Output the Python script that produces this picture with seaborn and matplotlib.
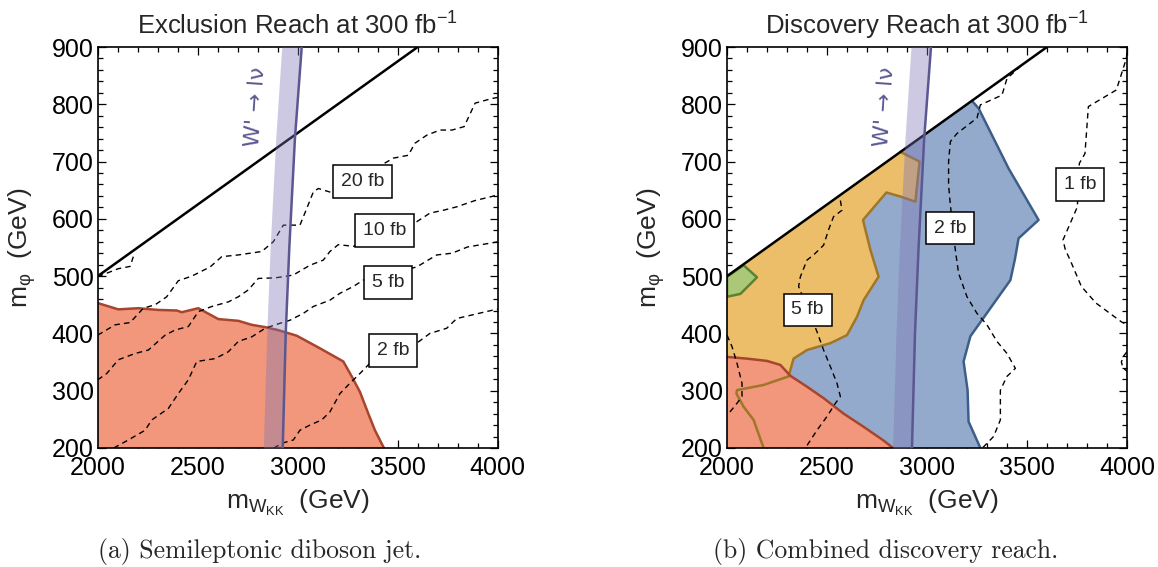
import matplotlib
matplotlib.use("Agg")
import matplotlib.pyplot as plt
from matplotlib.ticker import MultipleLocator
import seaborn as sns

# axis ranges / ticks
x_major = [2000, 2500, 3000, 3500, 4000]
y_major = [200, 300, 400, 500, 600, 700, 800, 900]

# kinematic edge m_phi = m_W / 4
kin_x = [2000, 3600]
kin_y = [500, 900]

# W' -> l nu band
band_y = [200, 400, 550, 740, 900]
band_lo = [2828, 2845, 2862, 2890, 2920]
band_hi = [2925, 2940, 2958, 2986, 3020]

# ---- (a) semileptonic diboson exclusion ----
excl_x = [2000, 2103, 2203, 2303, 2395, 2420, 2503, 2603, 2703, 2770, 2837, 2900,
          2995, 3111, 3228, 3270, 3311, 3353, 3386, 3431]
excl_y = [453, 442, 444, 441, 440, 437, 444, 425, 422, 415, 411, 406,
          396, 374, 351, 325, 298, 260, 231, 200]

# cross-section contours (a)
a_top_x = [2000, 2103, 2162, 2178]
a_top_y = [499, 513, 517, 534]
a20_x = [2000, 2087, 2162, 2228, 2287, 2345, 2403, 2470, 2562, 2620, 2703, 2820, 2878, 2928,
         3011, 3045, 3078, 3103, 3178, 3478, 3553, 3586, 3645, 3711, 3771, 3832, 3887, 3970, 4000]
a20_y = [397, 415, 419, 444, 450, 464, 492, 500, 516, 534, 537, 543, 560, 589,
         589, 618, 647, 653, 645, 706, 711, 732, 746, 755, 755, 761, 802, 810, 812]
a10_x = [2000, 2045, 2103, 2187, 2253, 2337, 2387, 2453, 2503, 2570, 2653, 2703, 2753, 2803, 2887,
         2945, 2978, 3061, 3128, 3161, 3203, 3278, 3595, 3661, 3728, 3795, 3887, 3970, 4000]
a10_y = [319, 330, 354, 365, 371, 397, 406, 412, 438, 447, 455, 464, 476, 496, 497,
         500, 502, 519, 528, 543, 555, 552, 595, 610, 615, 621, 632, 639, 642]
a5_x = [2080, 2153, 2237, 2270, 2353, 2403, 2453, 2495, 2587, 2653, 2703, 2770, 2837, 2887,
        2961, 3028, 3078, 3161, 3211, 3278, 3328, 3595, 3695, 3771, 3850, 3970, 4000]
a5_y = [200, 214, 231, 249, 269, 295, 319, 351, 356, 368, 386, 394, 409, 415,
        423, 435, 447, 458, 470, 482, 493, 516, 537, 540, 551, 558, 560]
a2_x = [2880, 2928, 2978, 3011, 3061, 3120, 3161, 3211, 3261, 3311, 3361, 3595, 3661, 3745,
        3795, 3979, 4000]
a2_y = [200, 209, 214, 231, 240, 249, 263, 295, 313, 330, 348, 383, 400, 409,
        426, 441, 442]
a_labels = ["20 fb", "10 fb", "5 fb", "2 fb"]
a_label_x = [3323, 3435, 3453, 3476]
a_label_y = [665, 580, 489, 370]

# ---- (b) combined discovery ----
blue_x = [2000, 3225, 3258, 3408, 3558, 3458, 3440, 3417, 3317, 3217, 3183, 3203, 3208, 3267, 2000]
blue_y = [500, 806, 793, 688, 598, 566, 530, 493, 444, 395, 351, 301, 246, 200, 200]
orange_x = [2000, 2867, 2963, 2942, 2867, 2797, 2680, 2717, 2758, 2683, 2650, 2600, 2517, 2400,
            2333, 2308, 2183, 2050, 2047, 2083, 2133, 2183, 2000]
orange_y = [500, 717, 700, 630, 639, 646, 598, 546, 499, 458, 429, 397, 383, 371,
            356, 325, 310, 301, 295, 272, 249, 200, 200]
red_x = [2000, 2100, 2200, 2267, 2317, 2400, 2483, 2583, 2683, 2783, 2830, 2000]
red_y = [359, 356, 352, 345, 326, 307, 287, 260, 237, 213, 200, 200]
green_x = [2000, 2083, 2150, 2067, 2000, 2000]
green_y = [499, 519, 498, 469, 464, 499]

b10_x = [2000, 2025, 2050, 2075, 2075, 2050, 2008, 2000]
b10_y = [397, 377, 348, 313, 290, 278, 260, 257]
b5_x = [2567, 2575, 2533, 2508, 2483, 2433, 2400, 2367, 2358, 2450, 2483, 2517, 2550, 2567,
        2542, 2500, 2450, 2392]
b5_y = [632, 615, 604, 581, 554, 537, 528, 499, 482, 403, 371, 342, 313, 290,
        278, 255, 231, 200]
b2_x = [3470, 3400, 3375, 3267, 3250, 3150, 3117, 3108, 3108, 3117, 3142, 3158, 3200, 3250,
        3300, 3350, 3400, 3442, 3400, 3367, 3367, 3367, 3333, 3283, 3267]
b2_y = [867, 845, 816, 799, 776, 749, 735, 700, 659, 624, 545, 505, 464, 435,
        415, 386, 365, 339, 325, 301, 272, 249, 220, 202, 200]
b1_x = [4000, 3997, 3947, 3807, 3790, 3762, 3752, 3680, 3692, 3716, 3772, 3845, 3973, 4000]
b1_y = [890, 880, 825, 796, 714, 697, 621, 563, 546, 528, 482, 453, 420, 415]
b_small_x = [4000, 3982, 3972, 3980, 4000]
b_small_y = [368, 360, 350, 340, 334]
b_labels = ["5 fb", "2 fb", "1 fb"]
b_label_x = [2403, 3117, 3766]
b_label_y = [441, 584, 660]

# colours
RED, RED_E = "#F2977B", "#A8452D"
BLUE, BLUE_E = "#94AACC", "#3E5E8A"
ORANGE, ORANGE_E = "#ECBE6A", "#A07628"
GREEN, GREEN_E = "#AAC878", "#5A8232"
BAND, BAND_E = "#7D73B4", "#5B5791"

sns.set_theme(style="ticks")
plt.rcParams['font.family'] = ['Liberation Sans', 'DejaVu Sans']
plt.rcParams['mathtext.fontset'] = 'custom'
plt.rcParams['mathtext.rm'] = 'Liberation Sans'
plt.rcParams['mathtext.it'] = 'Liberation Sans:italic'
plt.rcParams['mathtext.sf'] = 'Liberation Sans'

fig = plt.figure(figsize=(11.58, 5.67), dpi=100)
axL = fig.add_axes([0.0844, 0.2099, 0.3454, 0.7072])
axR = fig.add_axes([0.6278, 0.2099, 0.3454, 0.7072])


def frame(ax, title):
    ax.set_xlim(2000, 4000)
    ax.set_ylim(200, 900)
    ax.set_xticks(x_major)
    ax.set_yticks(y_major)
    ax.xaxis.set_minor_locator(MultipleLocator(100))
    ax.yaxis.set_minor_locator(MultipleLocator(20))
    ax.tick_params(which='both', direction='in', top=True, right=True,
                   labelsize=18, width=0.9, colors='black')
    ax.tick_params(axis='x', which='major', pad=6)
    ax.tick_params(axis='y', which='major', pad=3)
    ax.tick_params(which='major', length=6)
    ax.tick_params(which='minor', length=3.5)
    for s in ax.spines.values():
        s.set_linewidth(1.2)
        s.set_color('black')
    ax.set_title(title, fontsize=18.5, pad=9)
    ax.set_xlabel(r'$\mathrm{m}_{\mathrm{W}_{\mathrm{KK}}}$  (GeV)', fontsize=19)
    ax.set_ylabel(r'$\mathrm{m}_{\mathrm{\varphi}}$  (GeV)', fontsize=19)
    ax.xaxis.set_label_coords(0.5, -0.10)
    ax.yaxis.set_label_coords(-0.15, 0.5)


def dashed(ax, xs, ys):
    sns.lineplot(x=xs, y=ys, ax=ax, sort=False, estimator=None, color='black',
                 linewidth=1.0, linestyle=(0, (4, 3)), zorder=5)


def common(ax):
    sns.lineplot(x=kin_x, y=kin_y, ax=ax, sort=False, estimator=None,
                 color='black', linewidth=1.8, zorder=6)
    ax.fill_betweenx(band_y, band_lo, band_hi, color=BAND, alpha=0.38, lw=0, zorder=7)
    sns.lineplot(x=band_hi, y=band_y, ax=ax, sort=False, estimator=None,
                 color=BAND_E, linewidth=1.8, zorder=7)
    ax.text(2790, 795, "W' → lν", rotation=86, color=BAND_E, fontsize=16,
            family=['DejaVu Sans'], ha='center', va='center', zorder=9)


def boxes(ax, labels, xs, ys):
    for t, x, y in zip(labels, xs, ys):
        ax.text(x, y, t, ha='center', va='center', fontsize=14, zorder=10,
                bbox=dict(boxstyle='square,pad=0.4', fc='white', ec='black', lw=1.1))


# ---- left panel ----
axL.fill(excl_x + [2000], excl_y + [200], color=RED, lw=0, zorder=1)
sns.lineplot(x=excl_x, y=excl_y, ax=axL, sort=False, estimator=None,
             color=RED_E, linewidth=1.8, zorder=2)
for xs, ys in [(a_top_x, a_top_y), (a20_x, a20_y), (a10_x, a10_y), (a5_x, a5_y), (a2_x, a2_y)]:
    dashed(axL, xs, ys)
common(axL)
boxes(axL, a_labels, a_label_x, a_label_y)
frame(axL, 'Exclusion Reach at 300 fb$^{-1}$')

# ---- right panel ----
axR.fill(blue_x, blue_y, color=BLUE, lw=0, zorder=1)
axR.fill(orange_x, orange_y, color=ORANGE, lw=0, zorder=1.1)
axR.fill(red_x, red_y, color=RED, lw=0, zorder=1.2)
axR.fill(green_x, green_y, color=GREEN, lw=0, zorder=1.3)
sns.lineplot(x=blue_x[1:14], y=blue_y[1:14], ax=axR, sort=False, estimator=None,
             color=BLUE_E, linewidth=1.8, zorder=2)
sns.lineplot(x=orange_x[1:22], y=orange_y[1:22], ax=axR, sort=False, estimator=None,
             color=ORANGE_E, linewidth=1.8, zorder=2)
sns.lineplot(x=red_x[:11], y=red_y[:11], ax=axR, sort=False, estimator=None,
             color=RED_E, linewidth=1.8, zorder=2.1)
sns.lineplot(x=green_x, y=green_y, ax=axR, sort=False, estimator=None,
             color=GREEN_E, linewidth=1.8, zorder=2.2)
for xs, ys in [(b10_x, b10_y), (b5_x, b5_y), (b2_x, b2_y), (b1_x, b1_y), (b_small_x, b_small_y)]:
    dashed(axR, xs, ys)
common(axR)
boxes(axR, b_labels, b_label_x, b_label_y)
frame(axR, 'Discovery Reach at 300 fb$^{-1}$')

fig.text(0.2245, 0.028, '(a) Semileptonic diboson jet.', family='cmr10', fontsize=18.5,
         ha='center', va='center')
fig.text(0.765, 0.028, '(b) Combined discovery reach.', family='cmr10', fontsize=18.5,
         ha='center', va='center')

fig.savefig('out.png', dpi=100)
